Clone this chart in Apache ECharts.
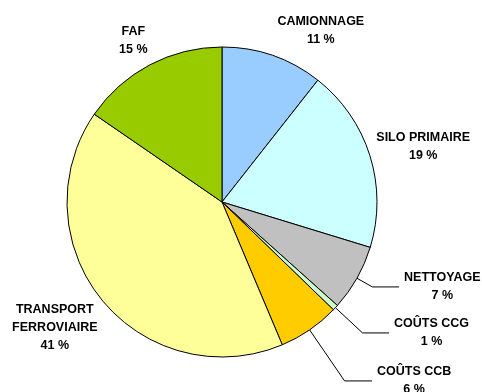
<!DOCTYPE html>
<html>
<head>
<meta charset="utf-8">
<script src="https://cdn.jsdelivr.net/npm/echarts@6/dist/echarts.min.js"></script>
<style>
html,body{margin:0;padding:0;background:#fff;}
#c{width:482px;height:392px;}
</style>
</head>
<body>
<div id="c"></div>
<script>
var categories = ['CAMIONNAGE', 'SILO PRIMAIRE', 'NETTOYAGE', 'COÛTS CCG', 'COÛTS CCB', 'TRANSPORT\nFERROVIAIRE', 'FAF'];
var values = [10.6, 19.1, 6.9, 0.6, 6.4, 40.9, 15.4];
var colors = ['#99CCFF', '#CCFFFF', '#C0C0C0', '#CCFFCC', '#FFCC00', '#FFFF99', '#99CC00'];
// label placement per slice: [show line, length, length2]
var labelLines = [
  [false, 26.5, -9],
  [false, 30.8, -28],
  [true, 17.7, 26.7],
  [true, 37.1, 26.5],
  [true, 61.9, 27.4],
  [false, 44.3, -35],
  [false, 27, -15.3]
];

var data = categories.map(function (name, i) {
  return {
    name: name,
    value: values[i],
    itemStyle: { color: colors[i] },
    labelLine: { show: labelLines[i][0], length: labelLines[i][1], length2: labelLines[i][2] }
  };
});

var chart = echarts.init(document.getElementById('c'));
chart.setOption({
  animation: false,
  backgroundColor: '#ffffff',
  series: [{
    type: 'pie',
    left: 0, top: 0, width: 560, height: 460,
    center: [222, 202],
    radius: 155,
    startAngle: 90,
    clockwise: true,
    avoidLabelOverlap: false,
    data: data,
    itemStyle: { borderColor: '#000000', borderWidth: 1 },
    label: {
      show: true,
      position: 'outside',
      distanceToLabelLine: 5,
      formatter: function (p) {
        var lines = p.name.split('\n');
        lines.push(Math.round(p.value) + ' %');
        return lines.map(function (l) { return '{t|' + l + '}'; }).join('\n');
      },
      rich: {
        t: {
          align: 'center',
          fontFamily: 'Liberation Sans, Arial, sans-serif',
          fontWeight: 'bold',
          fontSize: 12.5,
          lineHeight: 18,
          color: '#000000'
        }
      }
    },
    labelLine: {
      smooth: false,
      minTurnAngle: 0,
      lineStyle: { color: '#000000', width: 1 }
    },
    emphasis: { disabled: true }
  }]
});
</script>
</body>
</html>
